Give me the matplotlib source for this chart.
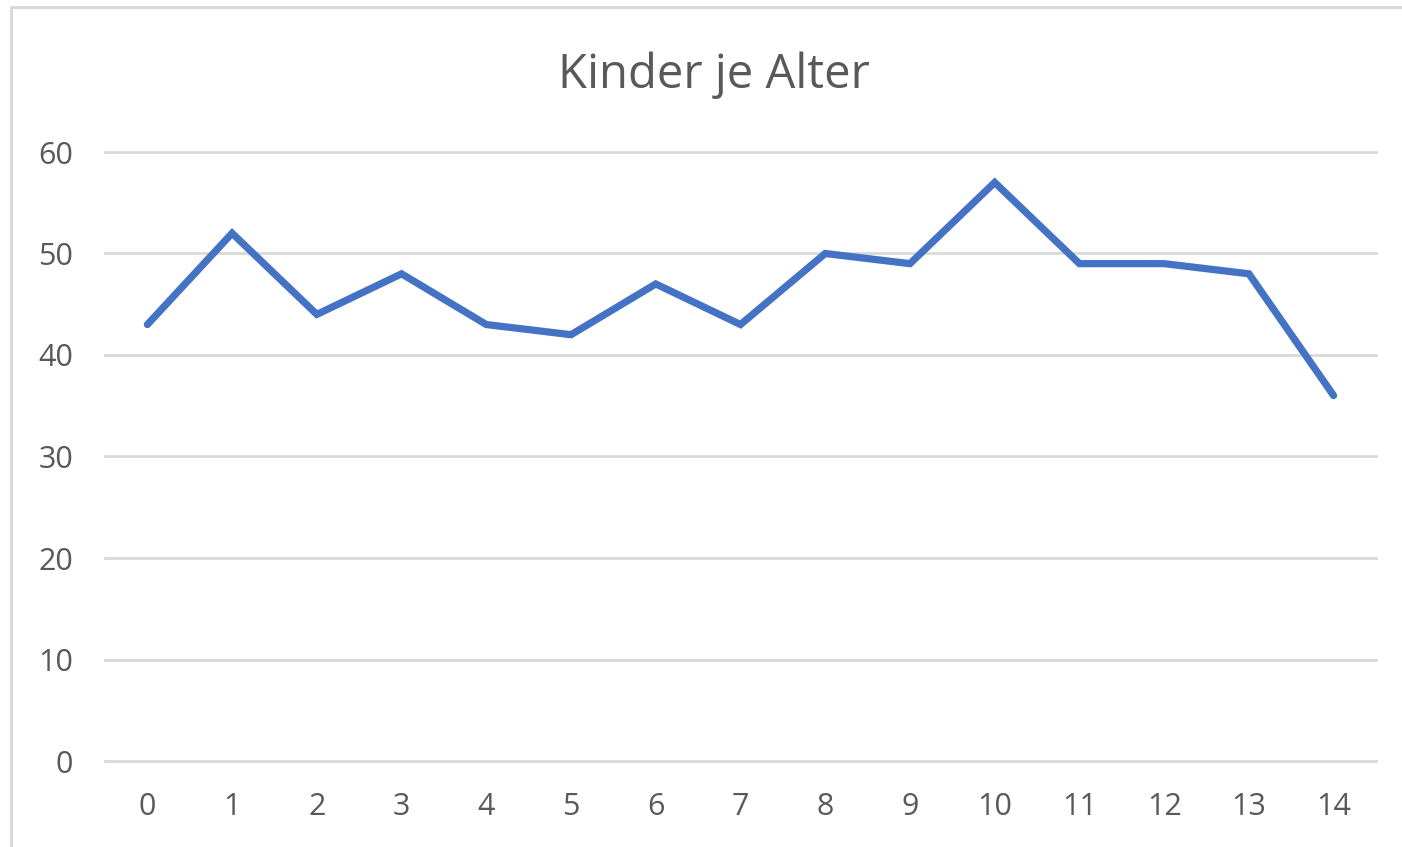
import matplotlib.pyplot as plt
from matplotlib.lines import Line2D

alter = list(range(15))
kinder = [43, 52, 44, 48, 43, 42, 47, 43, 50, 49, 57, 49, 49, 48, 36]
y_ticks = [0, 10, 20, 30, 40, 50, 60]

plt.rcParams['font.family'] = ['Open Sans', 'DejaVu Sans']
grau = '#595959'

fig = plt.figure(figsize=(14.02, 8.47), dpi=100)
ax = fig.add_axes([105 / 1402, 1 - 761 / 847, (1376 - 105) / 1402, (761 - 152) / 847])

# Rahmen des Diagrammbereichs, nur links und oben sichtbar
x0, y0 = 11 / 1402, 1 - 7.5 / 847
fig.add_artist(Line2D([x0, x0, 1.0], [0.0, y0, y0], transform=fig.transFigure,
                      color='#d9d9d9', linewidth=2.2))

ax.plot(alter, kinder, color='#4472C4', linewidth=5.2, solid_joinstyle='miter',
        solid_capstyle='round')

ax.set_xlim(-0.5, 14.5)
ax.set_ylim(0, 60)
ax.set_yticks(y_ticks)
ax.set_xticks(alter)
ax.grid(axis='y', color='#d9d9d9', linewidth=2)
for gl in ax.get_ygridlines():
    gl.set_clip_on(False)
ax.set_axisbelow(True)
for s in ax.spines.values():
    s.set_visible(False)
ax.tick_params(length=0, labelsize=22, labelcolor=grau)
ax.tick_params(axis='y', pad=23)
ax.tick_params(axis='x', pad=22)

fig.text((555 + 873) / 2 / 1402, 1 - 75 / 847, 'Kinder je Alter', ha='center', va='center',
         fontsize=34, color=grau)

fig.savefig('out.png', dpi=100)
